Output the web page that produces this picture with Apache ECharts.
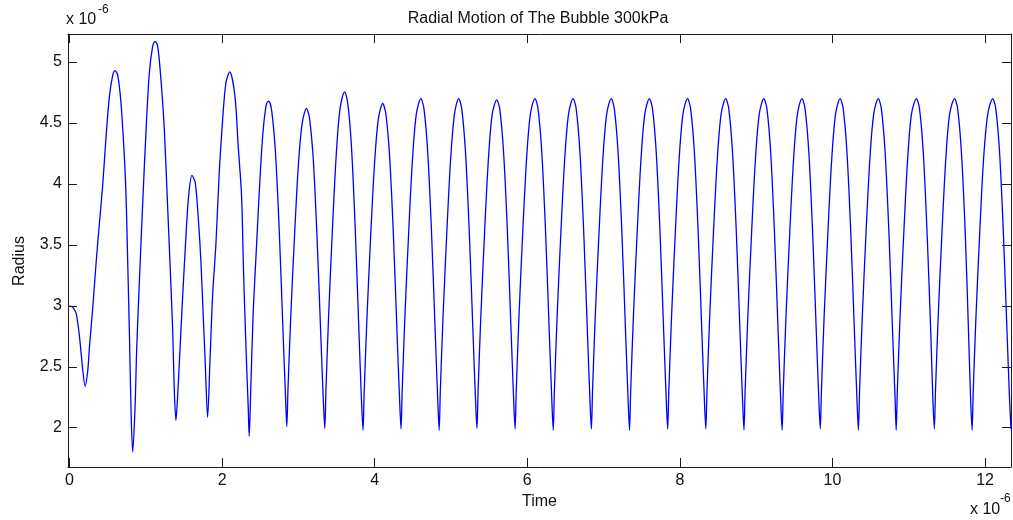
<!DOCTYPE html>
<html>
<head>
<meta charset="utf-8">
<script src="https://cdn.jsdelivr.net/npm/echarts@6/dist/echarts.min.js"></script>
<style>
html,body{margin:0;padding:0;background:#fff;}
#chart{width:1013px;height:520px;}
</style>
</head>
<body>
<div id="chart"></div>
<script>
// Time in units of 1e-6 s, radius in units of 1e-6 m
const chartTitle = 'Radial Motion of The Bubble 300kPa';
const xName = 'Time';
const yName = 'Radius';
const xTicks = [0, 2, 4, 6, 8, 10, 12];
const yTicks = [2, 2.5, 3, 3.5, 4, 4.5, 5];

const startup = [
  [0, 3.00], [0.04, 2.99], [0.086, 2.94], [0.13, 2.75], [0.174, 2.47], [0.204, 2.34],
  [0.239, 2.47], [0.261, 2.66], [0.305, 2.99], [0.348, 3.35], [0.392, 3.68], [0.436, 4.00],
  [0.479, 4.39], [0.523, 4.72], [0.566, 4.89], [0.597, 4.93], [0.632, 4.89], [0.675, 4.66],
  [0.719, 4.22], [0.741, 3.90], [0.763, 3.35], [0.784, 2.80], [0.806, 2.15], [0.828, 1.80],
  [0.859, 2.17], [0.88, 2.64], [0.915, 3.19], [0.959, 3.84], [1.003, 4.44], [1.046, 4.91],
  [1.09, 5.13], [1.12, 5.17], [1.155, 5.13], [1.199, 4.85], [1.243, 4.44], [1.286, 3.81],
  [1.317, 3.35], [1.352, 2.80], [1.373, 2.31], [1.395, 2.06], [1.417, 2.26], [1.439, 2.53],
  [1.483, 3.08], [1.526, 3.57], [1.561, 3.90], [1.605, 4.07], [1.648, 4.01], [1.692, 3.68],
  [1.723, 3.35], [1.753, 2.91], [1.779, 2.53], [1.81, 2.085], [1.84, 2.53], [1.875, 3.08],
  [1.919, 3.51], [1.962, 4.09], [2.006, 4.52], [2.05, 4.83], [2.10, 4.92], [2.168, 4.72],
  [2.211, 4.31], [2.255, 3.90], [2.28, 3.30], [2.30, 2.90], [2.32, 2.53], [2.342, 2.17],
  [2.355, 1.93], [2.373, 2.26], [2.407, 2.94], [2.451, 3.49], [2.495, 4.03], [2.538, 4.44],
  [2.582, 4.66]
];

const settling = [
  [2.61, 4.68], [2.65, 4.60], [2.70, 4.25], [2.75, 3.60], [2.80, 2.76], [2.83, 2.27], [2.848, 2.01],
  [2.863, 2.31], [2.898, 2.89], [2.948, 3.56], [2.998, 4.14], [3.048, 4.49], [3.105, 4.62],
  [3.145, 4.54], [3.195, 4.20], [3.245, 3.55], [3.295, 2.73], [3.325, 2.25], [3.346, 1.995],
  [3.361, 2.31], [3.396, 2.92], [3.446, 3.63], [3.496, 4.24], [3.546, 4.62], [3.605, 4.755],
  [3.645, 4.67], [3.695, 4.31], [3.745, 3.63], [3.795, 2.76], [3.825, 2.25], [3.847, 1.98],
  [3.862, 2.29], [3.897, 2.88], [3.947, 3.57], [3.997, 4.16], [4.047, 4.53], [4.105, 4.66],
  [4.145, 4.58], [4.195, 4.23], [4.245, 3.58], [4.295, 2.74], [4.325, 2.25], [4.345, 1.99],
  [4.36, 2.30], [4.395, 2.90], [4.445, 3.60], [4.495, 4.20], [4.545, 4.57]
];

const steady = [
  [4.605, 4.70], [4.645, 4.62], [4.695, 4.26], [4.745, 3.60], [4.795, 2.75], [4.825, 2.25], [4.845, 1.98],
  [4.86, 2.30], [4.895, 2.90], [4.945, 3.60], [4.995, 4.20], [5.045, 4.57], [5.10, 4.70],
  [5.14, 4.62], [5.19, 4.26], [5.24, 3.60], [5.29, 2.75], [5.32, 2.25], [5.34, 1.995],
  [5.355, 2.30], [5.39, 2.90], [5.44, 3.60], [5.49, 4.20], [5.54, 4.57], [5.60, 4.69],
  [5.64, 4.61], [5.69, 4.25], [5.74, 3.60], [5.79, 2.75], [5.82, 2.25], [5.84, 1.99],
  [5.855, 2.30], [5.89, 2.90], [5.94, 3.60], [5.99, 4.20], [6.04, 4.57], [6.10, 4.70],
  [6.14, 4.62], [6.19, 4.26], [6.24, 3.60], [6.29, 2.75], [6.32, 2.25], [6.34, 1.98],
  [6.355, 2.30], [6.39, 2.90], [6.44, 3.60], [6.49, 4.20], [6.54, 4.57], [6.60, 4.70],
  [6.64, 4.62], [6.69, 4.26], [6.74, 3.60], [6.79, 2.75], [6.82, 2.25], [6.84, 1.99],
  [6.855, 2.30], [6.89, 2.90], [6.94, 3.60], [6.99, 4.20], [7.04, 4.57], [7.10, 4.70],
  [7.14, 4.62], [7.19, 4.26], [7.24, 3.60], [7.29, 2.75], [7.32, 2.25], [7.34, 1.98],
  [7.355, 2.30], [7.39, 2.90], [7.44, 3.60], [7.49, 4.20], [7.54, 4.57], [7.60, 4.70],
  [7.64, 4.62], [7.69, 4.26], [7.74, 3.60], [7.79, 2.75], [7.82, 2.25], [7.84, 1.99],
  [7.855, 2.30], [7.89, 2.90], [7.94, 3.60], [7.99, 4.20], [8.04, 4.57], [8.10, 4.70],
  [8.14, 4.62], [8.19, 4.26], [8.24, 3.60], [8.29, 2.75], [8.32, 2.25], [8.34, 1.99],
  [8.355, 2.30], [8.39, 2.90], [8.44, 3.60], [8.49, 4.20], [8.54, 4.57], [8.60, 4.70],
  [8.64, 4.62], [8.69, 4.26], [8.74, 3.60], [8.79, 2.75], [8.82, 2.25], [8.84, 1.98],
  [8.855, 2.30], [8.89, 2.90], [8.94, 3.60], [8.99, 4.20], [9.04, 4.57], [9.10, 4.70],
  [9.14, 4.62], [9.19, 4.26], [9.24, 3.60], [9.29, 2.75], [9.32, 2.25], [9.34, 1.98],
  [9.355, 2.30], [9.39, 2.90], [9.44, 3.60], [9.49, 4.20], [9.54, 4.57], [9.60, 4.70],
  [9.64, 4.62], [9.69, 4.26], [9.74, 3.60], [9.79, 2.75], [9.82, 2.25], [9.84, 1.99],
  [9.855, 2.30], [9.89, 2.90], [9.94, 3.60], [9.99, 4.20], [10.04, 4.57], [10.10, 4.70],
  [10.14, 4.62], [10.19, 4.26], [10.24, 3.60], [10.29, 2.75], [10.32, 2.25], [10.34, 1.98],
  [10.355, 2.30], [10.39, 2.90], [10.44, 3.60], [10.49, 4.20], [10.54, 4.57], [10.60, 4.70],
  [10.64, 4.62], [10.69, 4.26], [10.74, 3.60], [10.79, 2.75], [10.82, 2.25], [10.835, 1.98],
  [10.85, 2.30], [10.885, 2.90], [10.935, 3.60], [10.985, 4.20], [11.035, 4.57], [11.10, 4.70],
  [11.14, 4.62], [11.19, 4.26], [11.24, 3.60], [11.29, 2.75], [11.315, 2.25], [11.335, 1.99],
  [11.35, 2.30], [11.385, 2.90], [11.435, 3.60], [11.485, 4.20], [11.535, 4.57], [11.60, 4.70],
  [11.64, 4.62], [11.69, 4.26], [11.74, 3.60], [11.785, 2.75], [11.81, 2.25], [11.83, 1.98],
  [11.845, 2.30], [11.88, 2.90], [11.93, 3.60], [11.98, 4.20], [12.035, 4.57], [12.10, 4.70],
  [12.14, 4.62], [12.19, 4.26], [12.24, 3.60], [12.29, 2.75], [12.32, 2.25], [12.34, 1.99]
];

const radiusCurve = startup.concat(settling, steady);

const FONT = '"Liberation Sans", Arial, Helvetica, sans-serif';
const FS = 16;
const AXIS_COLOR = '#1a1a1a';
const X_MIN = -0.02, X_MAX = 12.34, Y_MIN = 1.678, Y_MAX = 5.23;

const chart = echarts.init(document.getElementById('chart'), null, {renderer: 'canvas'});

function xAxisCfg(pos, showLabels) {
  return {
    type: 'value', position: pos, min: X_MIN, max: X_MAX,
    splitLine: {show: false},
    axisLine: {show: true, onZero: false, lineStyle: {color: AXIS_COLOR, width: 1}},
    axisTick: {show: true, inside: true, length: 9, customValues: xTicks, lineStyle: {color: AXIS_COLOR}},
    axisLabel: {show: showLabels, customValues: xTicks, margin: 6, color: '#111', fontSize: FS, fontFamily: FONT,
      formatter: v => String(v)}
  };
}
function yAxisCfg(pos, showLabels) {
  return {
    type: 'value', position: pos, min: Y_MIN, max: Y_MAX,
    splitLine: {show: false},
    axisLine: {show: true, onZero: false, lineStyle: {color: AXIS_COLOR, width: 1}},
    axisTick: {show: true, inside: true, length: 9, customValues: yTicks, lineStyle: {color: AXIS_COLOR}},
    axisLabel: {show: showLabels, customValues: yTicks, margin: 6, color: '#111', fontSize: FS, fontFamily: FONT,
      formatter: v => String(v)}
  };
}

const xMain = xAxisCfg('bottom', true);
xMain.name = xName;
xMain.nameLocation = 'middle';
xMain.nameGap = 27;
xMain.nameTextStyle = {color: '#111', fontSize: FS, fontFamily: FONT};

const option = {
  backgroundColor: '#fff',
  animation: false,
  title: {
    text: chartTitle, left: 533, top: 6, textAlign: 'center',
    textStyle: {color: '#111', fontSize: FS, fontWeight: 'normal', fontFamily: FONT}
  },
  grid: {left: 68, top: 34, width: 943, height: 433, containLabel: false},
  xAxis: [xMain, xAxisCfg('top', false)],
  yAxis: [yAxisCfg('left', true), yAxisCfg('right', false)],
  graphic: [
    {type: 'text', x: 20, y: 261, rotation: Math.PI / 2,
      style: {text: yName, fontSize: FS, fontFamily: FONT, fill: '#111', align: 'center', verticalAlign: 'middle'}},
    {type: 'text', left: 66, top: 12, style: {text: 'x 10', fontSize: FS, fontFamily: FONT, fill: '#111'}},
    {type: 'text', left: 98, top: 4, style: {text: '-6', fontSize: 12, fontFamily: FONT, fill: '#111'}},
    {type: 'text', left: 970, top: 502, style: {text: 'x 10', fontSize: FS, fontFamily: FONT, fill: '#111'}},
    {type: 'text', left: 1000, top: 493, style: {text: '-6', fontSize: 12, fontFamily: FONT, fill: '#111'}}
  ],
  series: [{
    type: 'line',
    data: radiusCurve,
    xAxisIndex: 0, yAxisIndex: 0,
    showSymbol: false,
    smooth: 0.3,
    lineStyle: {color: '#0000ff', width: 1.3},
    clip: true
  }]
};
chart.setOption(option);
</script>
</body>
</html>
